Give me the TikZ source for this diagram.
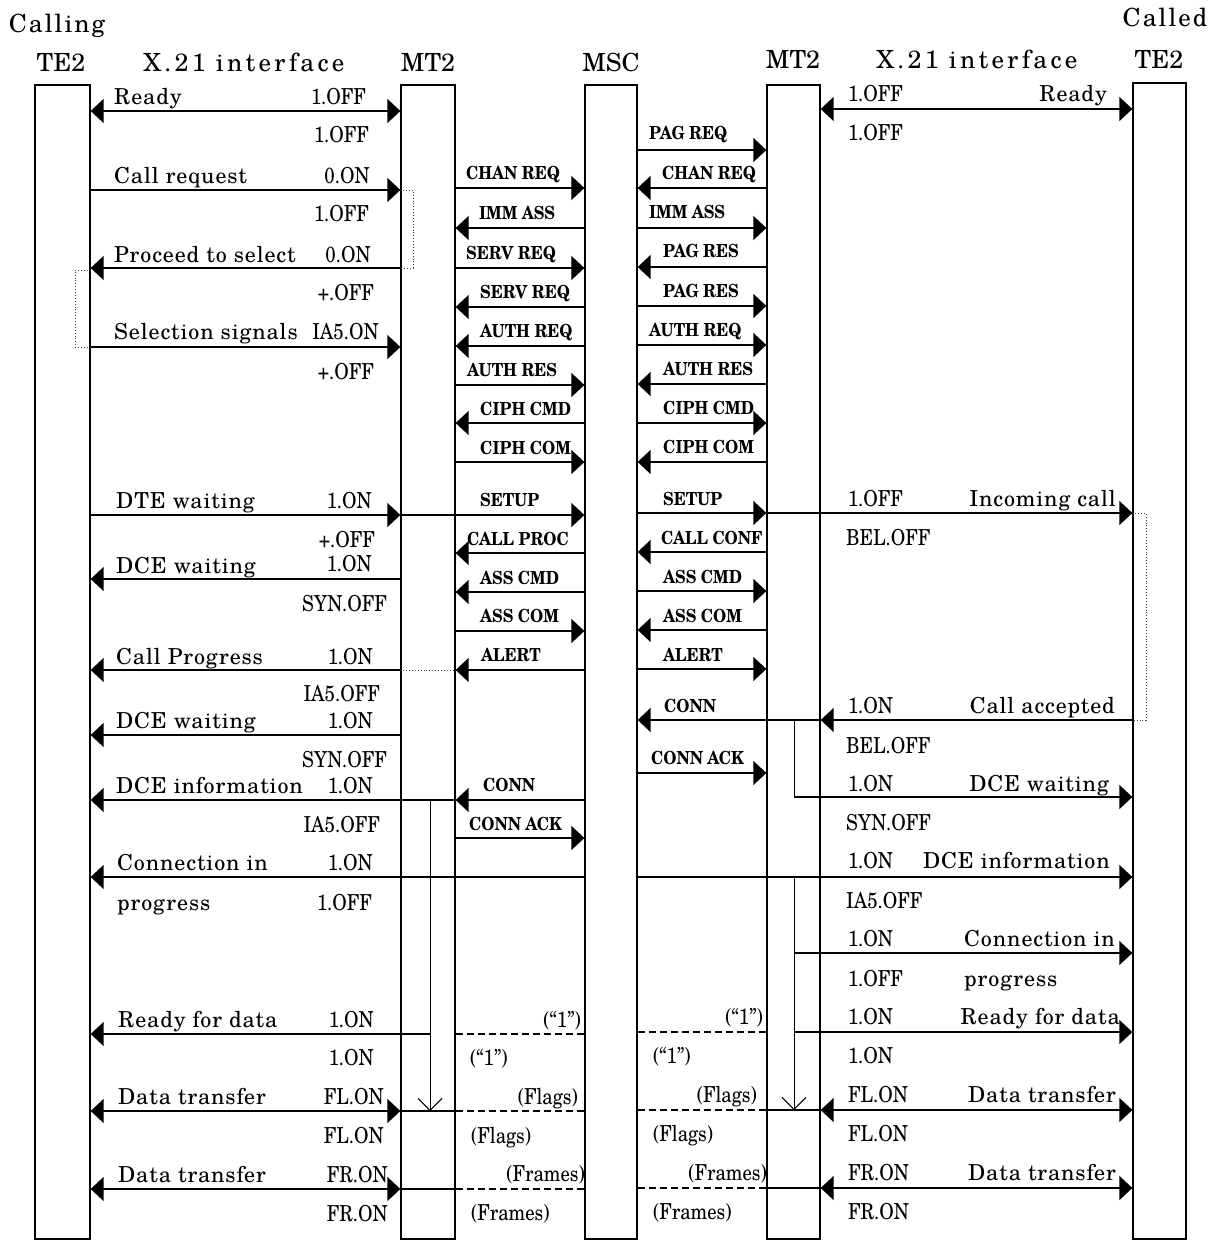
\documentclass[tikz,border=0pt]{standalone}
\usepackage{fontspec}
\setmainfont{texgyreschola-regular.otf}
\newfontfamily\sigfont{texgyreschola-bold.otf}[FakeStretch=0.88]
\usetikzlibrary{arrows.meta}
\newcounter{tn}
\newcommand\Tx[4]{\stepcounter{tn}\node[#1] (t\arabic{tn}) at (#2,#3) {#4};}
\newcommand\Ar[3]{\draw[msg,->] (#1|-0,#3) -- (#2|-0,#3);}
\newcommand\Ab[3]{\draw[msg,<->] (#1|-0,#3) -- (#2|-0,#3);}
\newcommand\Ln[4]{\draw[#1] (#2|-0,#4) -- (#3|-0,#4);}
\tikzset{
  life/.style={draw, line width=1.3pt, inner sep=0pt},
  msg/.style={line width=1.5pt},
  >={Triangle[length=13pt,width=24pt]},
  dotbr/.style={dotted, line width=0.9pt, black!75},
  dashln/.style={dash pattern=on 7pt off 4pt, line width=1.3pt},
  innerln/.style={line width=1pt},
  lab/.style={font={\fontsize{22}{24}\selectfont\addfontfeature{LetterSpace=4}}, inner sep=0pt},
  val/.style={font={\fontsize{22}{24}\selectfont\addfontfeature{FakeStretch=0.85}}, inner sep=0pt},
  sig/.style={font={\sigfont\fontsize{18}{20}\selectfont}, inner sep=0pt},
  lw/.style={lab, anchor=base west}, le/.style={lab, anchor=base east},
  vw/.style={val, anchor=base west}, ve/.style={val, anchor=base east},
  sw/.style={sig, anchor=base west}, se/.style={val, anchor=base east}, pw/.style={val, anchor=base west},
  hdr/.style={font={\fontsize{25}{27}\selectfont}, inner sep=0pt, anchor=base},
  hdrl/.style={font={\fontsize{25}{27}\selectfont\addfontfeature{LetterSpace=8}}, inner sep=0pt, anchor=base},
  hdrx/.style={font={\fontsize{25}{27}\selectfont\addfontfeature{LetterSpace=13}}, inner sep=0pt, anchor=base},
}
\begin{document}
\begin{tikzpicture}[x=1pt,y=-1pt]
\useasboundingbox (0,0) rectangle (1218,1241);
\fill[white] (0,0) rectangle (1218,1241);
% headers
\Tx{hdrl}{57}{33}{Calling}
\Tx{hdr}{61}{72}{TE2}
\Tx{hdrx}{244}{72}{X.21 interface}
\Tx{hdr}{428}{72}{MT2}
\Tx{hdr}{611}{72}{MSC}
\Tx{hdr}{793}{69}{MT2}
\Tx{hdrx}{977}{69}{X.21 interface}
\Tx{hdr}{1159}{69}{TE2}
\Tx{hdrl}{1165}{27}{Called}
% lifelines
\node[life, minimum width=55pt, minimum height=1154pt] (A) at (62.5,662) {};
\node[life, minimum width=54pt, minimum height=1154pt] (B) at (428,662) {};
\node[life, minimum width=52pt, minimum height=1154pt] (C) at (611,662) {};
\node[life, minimum width=53pt, minimum height=1154pt] (D) at (793.5,662) {};
\node[life, minimum width=53pt, minimum height=1156pt] (E) at (1159.5,661) {};
% ---- A - B
\Ab{A.east}{B.west}{111}
\Ar{A.east}{B.west}{190}
\Ar{B.west}{A.east}{268}
\Ar{A.east}{B.west}{347}
\Ar{A.east}{B.west}{515}
\Ar{B.west}{C.west}{515}
\Ar{B.west}{A.east}{579}
\Ar{B.west}{A.east}{670}
\Ln{dotbr}{B.west}{B.east}{670}
\Ar{B.west}{A.east}{735}
\Ar{C.west}{B.east}{800}
\Ar{B.east}{A.east}{800}
\Ar{C.west}{A.east}{877}
\Ar{C.east}{E.west}{877}
\coordinate (bi1) at (430,800);
\coordinate (bi2) at (430,1111);
\coordinate (bi3) at (430,1034);
\draw[innerln,-{Straight Barb[length=12pt,width=24pt]}] (bi1) -- (bi2);
\Ar{bi3}{A.east}{1034}
\Ln{dashln}{B.east}{C.west}{1034}
\Ab{A.east}{B.west}{1111}
\Ln{msg}{B.west}{B.east}{1111}
\Ln{dashln}{B.east}{C.west}{1111}
\Ab{A.east}{B.west}{1189}
\Ln{msg}{B.west}{B.east}{1189}
\Ln{dashln}{B.east}{C.west}{1189}
% brackets
\draw[dotbr] (B.west|-0,190) -| (413,268) -- (B.west|-0,268);
\draw[dotbr] (A.east|-0,270) -| (75,347) -- (A.east|-0,347);
\draw[dotbr] (E.west|-0,513) -| (1146,720) -- (E.west|-0,720);
% ---- B - C
\Ar{B.east}{C.west}{188}
\Ar{C.west}{B.east}{228}
\Ar{B.east}{C.west}{268}
\Ar{C.west}{B.east}{307}
\Ar{C.west}{B.east}{346}
\Ar{B.east}{C.west}{385}
\Ar{C.west}{B.east}{423}
\Ar{B.east}{C.west}{462}
\Ar{C.west}{B.east}{553}
\Ar{C.west}{B.east}{592}
\Ar{B.east}{C.west}{631}
\Ar{C.west}{B.east}{670}
\Ar{B.east}{C.west}{838}
% ---- C - D
\Ar{C.east}{D.west}{150}
\Ar{D.west}{C.east}{188}
\Ar{C.east}{D.west}{228}
\Ar{D.west}{C.east}{267}
\Ar{C.east}{D.west}{306}
\Ar{C.east}{D.west}{345}
\Ar{D.west}{C.east}{384}
\Ar{C.east}{D.west}{423}
\Ar{D.west}{C.east}{462}
\Ar{C.east}{D.west}{513}
\Ar{D.west}{E.west}{513}
\Ar{D.west}{C.east}{552}
\Ar{C.east}{D.west}{591}
\Ar{D.west}{C.east}{630}
\Ar{C.east}{D.west}{669}
\Ar{E.west}{D.east}{720}
\Ar{D.east}{C.east}{720}
\Ar{C.east}{D.west}{773}
\Ln{dashln}{C.east}{D.west}{1032}
\Ln{dashln}{C.east}{D.west}{1110}
\Ln{msg}{D.west}{D.east}{1110}
\Ab{D.east}{E.west}{1110}
\Ln{dashln}{C.east}{D.west}{1188}
\Ln{msg}{D.west}{D.east}{1188}
\Ab{D.east}{E.west}{1188}
% ---- D - E
\Ab{D.east}{E.west}{109}
\coordinate (di1) at (794,720);
\coordinate (di2) at (794,797);
\coordinate (di3) at (794,877);
\coordinate (di4) at (794,1110);
\coordinate (di5) at (794,953);
\coordinate (di6) at (794,1032);
\draw[innerln] (di1) -- (di2);
\draw[innerln,-{Straight Barb[length=12pt,width=24pt]}] (di3) -- (di4);
\Ar{di2}{E.west}{797}
\Ar{di5}{E.west}{953}
\Ar{di6}{E.west}{1032}
% ---- left texts
\Tx{lw}{114}{105}{Ready}\Tx{ve}{366}{105}{1.OFF}
\Tx{ve}{369}{143}{1.OFF}
\Tx{lw}{114}{184}{Call request}\Tx{ve}{370}{184}{0.ON}
\Tx{ve}{369}{222}{1.OFF}
\Tx{lw}{114}{262}{Proceed to select}\Tx{ve}{371}{262}{0.ON}
\Tx{ve}{374}{300}{+.OFF}
\Tx{lw}{114}{339}{Selection signals}\Tx{ve}{379}{339}{IA5.ON}
\Tx{ve}{374}{379}{+.OFF}
\Tx{lw}{116}{508}{DTE waiting}\Tx{ve}{372}{508}{1.ON}
\Tx{ve}{375}{547}{+.OFF}
\Tx{lw}{116}{573}{DCE waiting}\Tx{ve}{372}{571}{1.ON}
\Tx{ve}{387}{611}{SYN.OFF}
\Tx{lw}{116}{664}{Call Progress}\Tx{ve}{373}{664}{1.ON}
\Tx{ve}{380}{701}{IA5.OFF}
\Tx{lw}{116}{728}{DCE waiting}\Tx{ve}{373}{728}{1.ON}
\Tx{ve}{387}{767}{SYN.OFF}
\Tx{lw}{116}{793}{DCE information}\Tx{ve}{373}{793}{1.ON}
\Tx{ve}{380}{832}{IA5.OFF}
\Tx{lw}{117}{870}{Connection in}\Tx{ve}{373}{870}{1.ON}
\Tx{lw}{117}{910}{progress}\Tx{ve}{372}{910}{1.OFF}
\Tx{lw}{118}{1027}{Ready for data}\Tx{ve}{374}{1027}{1.ON}
\Tx{ve}{374}{1065}{1.ON}
\Tx{lw}{118}{1104}{Data transfer}\Tx{ve}{384}{1104}{FL.ON}
\Tx{ve}{384}{1143}{FL.ON}
\Tx{lw}{118}{1182}{Data transfer}\Tx{ve}{388}{1182}{FR.ON}
\Tx{ve}{388}{1221}{FR.ON}
% ---- right texts
\Tx{vw}{848}{102}{1.OFF}\Tx{le}{1107}{102}{Ready}
\Tx{vw}{848}{141}{1.OFF}
\Tx{vw}{848}{506}{1.OFF}\Tx{le}{1116}{506}{Incoming call}
\Tx{vw}{846}{545}{BEL.OFF}
\Tx{vw}{848}{713}{1.ON}\Tx{le}{1115}{713}{Call accepted}
\Tx{vw}{846}{753}{BEL.OFF}
\Tx{vw}{848}{791}{1.ON}\Tx{le}{1109}{791}{DCE waiting}
\Tx{vw}{846}{830}{SYN.OFF}
\Tx{vw}{848}{868}{1.ON}\Tx{le}{1110}{868}{DCE information}
\Tx{vw}{846}{908}{IA5.OFF}
\Tx{vw}{848}{946}{1.ON}\Tx{lw}{964}{946}{Connection in}
\Tx{vw}{848}{986}{1.OFF}\Tx{lw}{964}{986}{progress}
\Tx{vw}{848}{1024}{1.ON}\Tx{le}{1120}{1024}{Ready for data}
\Tx{vw}{848}{1063}{1.ON}
\Tx{vw}{848}{1102}{FL.ON}\Tx{le}{1116}{1102}{Data transfer}
\Tx{vw}{848}{1141}{FL.ON}
\Tx{vw}{848}{1180}{FR.ON}\Tx{le}{1116}{1180}{Data transfer}
\Tx{vw}{848}{1219}{FR.ON}
% ---- B-C message labels
\Tx{sw}{466}{180}{CHAN REQ}
\Tx{sw}{479}{220}{IMM ASS}
\Tx{sw}{466}{259}{SERV REQ}
\Tx{sw}{480}{298}{SERV REQ}
\Tx{sw}{480}{337}{AUTH REQ}
\Tx{sw}{467}{376}{AUTH RES}
\Tx{sw}{480}{415}{CIPH CMD}
\Tx{sw}{480}{454}{CIPH COM}
\Tx{sw}{480}{506}{SETUP}
\Tx{sw}{467}{545}{CALL PROC}
\Tx{sw}{480}{584}{ASS CMD}
\Tx{sw}{480}{622}{ASS COM}
\Tx{sw}{481}{661}{ALERT}
\Tx{sw}{483}{791}{CONN}
\Tx{sw}{469}{830}{CONN ACK}
\Tx{se}{581}{1027}{(``1'')}
\Tx{pw}{470}{1065}{(``1'')}
\Tx{se}{578}{1104}{(Flags)}
\Tx{pw}{471}{1143}{(Flags)}
\Tx{se}{585}{1181}{(Frames)}
\Tx{pw}{471}{1220}{(Frames)}
% ---- C-D message labels
\Tx{sw}{649}{140}{PAG REQ}
\Tx{sw}{662}{180}{CHAN REQ}
\Tx{sw}{649}{219}{IMM ASS}
\Tx{sw}{663}{258}{PAG RES}
\Tx{sw}{663}{297}{PAG RES}
\Tx{sw}{649}{336}{AUTH REQ}
\Tx{sw}{663}{375}{AUTH RES}
\Tx{sw}{663}{414}{CIPH CMD}
\Tx{sw}{663}{453}{CIPH COM}
\Tx{sw}{663}{505}{SETUP}
\Tx{sw}{661}{544}{CALL CONF}
\Tx{sw}{663}{583}{ASS CMD}
\Tx{sw}{663}{622}{ASS COM}
\Tx{sw}{663}{661}{ALERT}
\Tx{sw}{664}{712}{CONN}
\Tx{sw}{651}{764}{CONN ACK}
\Tx{se}{763}{1024}{(``1'')}
\Tx{pw}{653}{1063}{(``1'')}
\Tx{se}{757}{1102}{(Flags)}
\Tx{pw}{653}{1141}{(Flags)}
\Tx{se}{767}{1180}{(Frames)}
\Tx{pw}{653}{1219}{(Frames)}
\end{tikzpicture}
\end{document}
